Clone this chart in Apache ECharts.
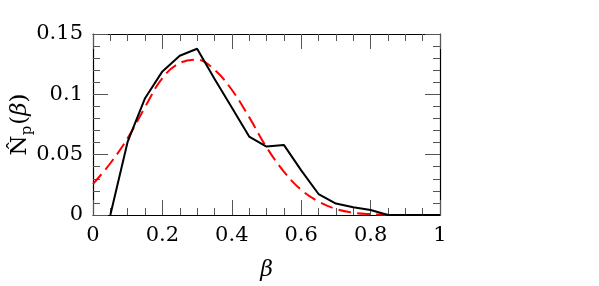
<!DOCTYPE html>
<html>
<head>
<meta charset="utf-8">
<script src="https://cdn.jsdelivr.net/npm/echarts@6/dist/echarts.min.js"></script>
<style>html,body{margin:0;padding:0;background:#fff;}#c{width:599px;height:286px;}</style>
</head>
<body>
<div id="c"></div>
<script>
// beta grid (x values)
const betaValues = [0, 0.05, 0.1, 0.15, 0.2, 0.25, 0.3, 0.35, 0.4, 0.45, 0.5, 0.55, 0.6, 0.65, 0.7, 0.75, 0.8, 0.85, 0.9, 0.95, 1.0];
// observed distribution (black solid); null where not drawn
const observed = [null, 0, 0.0609, 0.0968, 0.119, 0.132, 0.1378, 0.113, 0.089, 0.065, 0.0567, 0.0581, 0.037, 0.0174, 0.0095, 0.0064, 0.0041, 0, 0, 0, 0];
// fitted curve (red dashed)
const fitted = [0.0257, 0.0429, 0.0637, 0.0894, 0.1135, 0.1259, 0.1287, 0.1204, 0.1038, 0.0811, 0.0562, 0.036, 0.0208, 0.0111, 0.005, 0.0019, 0.0007, 0.0002, 0, 0, 0];
const xTicks = [0, 0.2, 0.4, 0.6, 0.8, 1];
const yTicks = [0, 0.05, 0.1, 0.15];

const font = 'DejaVu Serif';
const pair = (arr) => betaValues.map((b, i) => [b, arr[i]]).filter(p => p[1] !== null);

const mkTick = () => ({ show: true, inside: true, length: 15, lineStyle: { color: '#555', width: 1 } });
const mkMinor = (n) => ({ show: true, inside: true, splitNumber: n, length: 7, lineStyle: { color: '#555', width: 1 } });
const mkLine = () => ({ show: true, onZero: false, lineStyle: { color: '#000', width: 1.2 } });

const chart = echarts.init(document.getElementById('c'), null, { renderer: 'canvas' });
chart.setOption({
  animation: false,
  backgroundColor: '#fff',
  grid: { left: 93, right: 159, top: 34, bottom: 71, containLabel: false, outerBoundsMode: 'none' },
  xAxis: [
    {
      type: 'value', min: 0, max: 1, interval: 0.2, position: 'bottom',
      axisLine: mkLine(), axisTick: mkTick(), minorTick: mkMinor(4),
      splitLine: { show: false },
      axisLabel: { show: true, inside: false, margin: 10, color: '#000', fontFamily: font, fontSize: 21,
        customValues: xTicks, formatter: v => String(+v.toFixed(2)) },
      name: 'β', nameLocation: 'middle', nameGap: 44, nameMoveOverlap: false,
      nameTextStyle: { fontFamily: font, fontStyle: 'italic', fontSize: 22, color: '#000' }
    },
    {
      type: 'value', min: 0, max: 1, interval: 0.2, position: 'top',
      axisLine: mkLine(), axisTick: mkTick(), minorTick: mkMinor(4),
      splitLine: { show: false }, axisLabel: { show: false }
    }
  ],
  yAxis: [
    {
      type: 'value', min: 0, max: 0.15, interval: 0.05, position: 'left',
      axisLine: mkLine(), axisTick: mkTick(), minorTick: mkMinor(5),
      splitLine: { show: false },
      axisLabel: { show: true, inside: false, margin: 10, color: '#000', fontFamily: font, fontSize: 21,
        customValues: yTicks, formatter: v => String(+v.toFixed(2)) },
      name: '{n|N̂}{p|p}{n|(}{b|β}{n|)}', nameLocation: 'middle', nameGap: 58, nameRotate: 90,
      nameMoveOverlap: false,
      nameTextStyle: {
        color: '#000',
        rich: {
          n: { fontFamily: font, fontSize: 23, color: '#000', lineHeight: 30, verticalAlign: 'middle' },
          p: { fontFamily: font, fontSize: 15, color: '#000', lineHeight: 30, verticalAlign: 'bottom', padding: [9, 1, 0, 0] },
          b: { fontFamily: font, fontSize: 23, fontStyle: 'italic', color: '#000', lineHeight: 30, verticalAlign: 'middle' }
        }
      }
    },
    {
      type: 'value', min: 0, max: 0.15, interval: 0.05, position: 'right',
      axisLine: mkLine(), axisTick: mkTick(), minorTick: mkMinor(5),
      splitLine: { show: false }, axisLabel: { show: false }
    }
  ],
  series: [
    {
      type: 'line', name: 'fit', data: pair(fitted), smooth: 0.4, symbol: 'none',
      lineStyle: { color: '#ff0000', width: 2, type: [13, 6] }, z: 3
    },
    {
      type: 'line', name: 'observed', data: pair(observed), smooth: false, symbol: 'none',
      lineStyle: { color: '#000', width: 2 }, z: 4
    }
  ]
});
</script>
</body>
</html>
